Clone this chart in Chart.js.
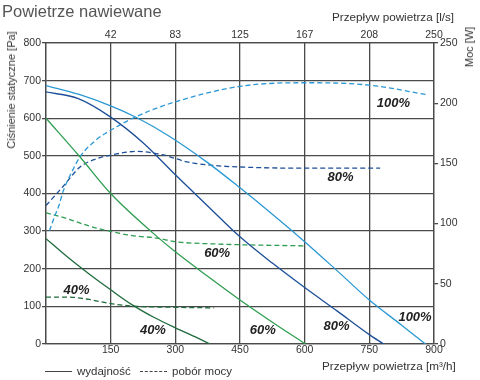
<!DOCTYPE html>
<html lang="pl">
<head>
<meta charset="utf-8">
<script src="https://cdn.jsdelivr.net/npm/chart.js@4.4.0/dist/chart.umd.min.js"></script>
<style>
  body { margin: 0; background: #fff; font-family: "Liberation Sans", Arial, sans-serif; }
  #wrap { position: relative; width: 480px; height: 380px; }
  #wrap canvas { position: absolute; left: 0; top: 0; }
  .txt { position: absolute; color: #333; font-size: 11.7px; white-space: nowrap; }
  .title { left: 2px; top: 2px; font-size: 16.5px; color: #555; }
  .rot { transform-origin: center; transform: translate(-50%, -50%) rotate(-90deg); font-size: 11px; }
  .leg-line { display: inline-block; width: 27px; vertical-align: middle; margin-right: 5px; border-top: 1px solid #444; }
  .leg-dash { border-top: 1px dashed #444; }
</style>
</head>
<body>
<div id="wrap">
  <canvas id="chart" width="480" height="380"></canvas>
  <div class="txt title">Powietrze nawiewane</div>
  <div class="txt" style="left:332px; top:10px;">Przepływ powietrza [l/s]</div>
  <div class="txt" style="left:322px; top:359px;">Przepływ powietrza [m³/h]</div>
  <div class="txt rot" style="left:11px; top:90px;">Ciśnienie statyczne [Pa]</div>
  <div class="txt rot" style="left:469px; top:47px;">Moc [W]</div>
  <div class="txt" style="left:45px; top:365px; font-size:11.5px;"><span class="leg-line"></span>wydajność</div>
  <div class="txt" style="left:140px; top:365px; font-size:11.5px;"><span class="leg-line leg-dash"></span>pobór mocy</div>
</div>
<script>
// osie
const flowTicks = [0, 150, 300, 450, 600, 750, 900];
const flowTicksLs = ['', '42', '83', '125', '167', '208', '250'];

// wydajność - ciśnienie statyczne [Pa]
const q100 = [0, 75, 150, 210, 285, 375, 450, 525, 600, 675, 750, 825, 880];
const pa100 = [687, 664, 633, 602, 553, 482, 415, 345, 272, 195, 117, 50, 0];
const q80 = [0, 75, 150, 225, 300, 375, 450, 525, 600, 675, 750, 783];
const pa80 = [670, 652, 603, 535, 450, 367, 285, 215, 150, 88, 25, 0];
const q60 = [0, 79, 150, 249, 300, 375, 450, 525, 602];
const pa60 = [600, 497, 400, 294, 245, 180, 117, 58, 0];
const q40 = [0, 50, 100, 150, 200, 250, 300, 350, 380];
const pa40 = [280, 231, 186, 144, 104, 71, 43, 17, 0];

// pobór mocy [W]
const qw100 = [8, 20, 30, 40, 60, 80, 118, 152, 210, 290, 450, 600, 750, 885];
const w100 = [94, 106, 115, 127, 143, 156, 170, 178, 189, 200, 214, 217, 215, 207];
const qw80 = [0, 40, 79, 118, 152, 210, 272, 330, 400, 450, 600, 775];
const w80 = [115, 131, 147, 154, 157, 160, 157, 151, 148, 147, 146, 146];
const qw60 = [0, 50, 100, 150, 200, 257, 300, 400, 600];
const w60 = [109, 104, 98, 93.5, 90, 88, 85, 83, 81.5];
const qw40 = [0, 50, 100, 150, 200, 300, 390];
const w40 = [39, 39, 37, 33.5, 31.5, 30.5, 30];

// etykiety krzywych (x w m3/h, y w Pa)
const curveLabels = [
  { text: '100%', x: 806, y: 640 },
  { text: '80%', x: 683, y: 444 },
  { text: '60%', x: 397, y: 242 },
  { text: '40%', x: 71, y: 143 },
  { text: '40%', x: 248, y: 37 },
  { text: '60%', x: 503, y: 37 },
  { text: '80%', x: 674, y: 47 },
  { text: '100%', x: 856, y: 70 }
];

const C100 = '#2a98d4';
const C80 = '#1d4f98';
const C60 = '#2f9e52';
const C40 = '#1f6b3c';
const GRID = '#4a4a4a';
const TICK_FONT = { family: '"Liberation Sans", Arial, sans-serif', size: 10.5 };

function pts(xs, ys) {
  return xs.map((x, i) => ({ x: x, y: ys[i] }));
}

function line(data, color, axis, dashed) {
  return {
    data: data,
    borderColor: color,
    borderWidth: 1.3,
    borderDash: dashed ? [5, 3] : [],
    pointRadius: 0,
    showLine: true,
    fill: false,
    cubicInterpolationMode: 'monotone',
    yAxisID: axis
  };
}

const labelPlugin = {
  id: 'curveLabels',
  afterDatasetsDraw(chart) {
    const ctx = chart.ctx;
    const sx = chart.scales.x, sy = chart.scales.y;
    ctx.save();
    ctx.font = 'italic bold 13px "Liberation Sans", Arial, sans-serif';
    ctx.fillStyle = '#222';
    ctx.textAlign = 'center';
    ctx.textBaseline = 'middle';
    curveLabels.forEach(l => {
      ctx.fillText(l.text, sx.getPixelForValue(l.x), sy.getPixelForValue(l.y));
    });
    ctx.restore();
  }
};

new Chart(document.getElementById('chart'), {
  type: 'scatter',
  data: {
    datasets: [
      line(pts(q100, pa100), C100, 'y', false),
      line(pts(q80, pa80), C80, 'y', false),
      line(pts(q60, pa60), C60, 'y', false),
      line(pts(q40, pa40), C40, 'y', false),
      line(pts(qw100, w100), C100, 'y2', true),
      line(pts(qw80, w80), C80, 'y2', true),
      line(pts(qw60, w60), C60, 'y2', true),
      line(pts(qw40, w40), C40, 'y2', true)
    ]
  },
  options: {
    responsive: false,
    animation: false,
    layout: { padding: 0 },
    plugins: { legend: { display: false }, tooltip: { enabled: false } },
    scales: {
      x: {
        type: 'linear', position: 'bottom', min: 0, max: 900,
        afterBuildTicks: s => { s.ticks = flowTicks.map(v => ({ value: v })); },
        afterFit: s => { s.height = 36; },
        ticks: { color: '#333', font: TICK_FONT, padding: 0, maxRotation: 0,
                 callback: v => (v === 0 ? '' : v) },
        grid: { color: GRID, lineWidth: 1.3, drawTicks: false },
        border: { color: GRID, width: 1.3 }
      },
      x2: {
        type: 'linear', position: 'top', min: 0, max: 900,
        afterBuildTicks: s => { s.ticks = flowTicks.map(v => ({ value: v })); },
        afterFit: s => { s.height = 43; },
        ticks: { color: '#333', font: TICK_FONT, padding: 2, maxRotation: 0,
                 callback: (v, i) => flowTicksLs[i] },
        grid: { drawOnChartArea: false, drawTicks: false },
        border: { color: GRID, width: 1.3 }
      },
      y: {
        type: 'linear', position: 'left', min: 0, max: 800,
        afterFit: s => { s.width = 46; },
        ticks: { stepSize: 100, color: '#333', font: TICK_FONT, padding: 1 },
        grid: { color: GRID, lineWidth: 1.3, tickLength: 4 },
        border: { color: GRID, width: 1.3 }
      },
      y2: {
        type: 'linear', position: 'right', min: 0, max: 250,
        afterFit: s => { s.width = 46; },
        ticks: { stepSize: 50, color: '#333', font: TICK_FONT, padding: 2 },
        grid: { drawOnChartArea: false, tickLength: 4, color: GRID, lineWidth: 1.3 },
        border: { color: GRID, width: 1.3 }
      }
    }
  },
  plugins: [labelPlugin]
});
</script>
</body>
</html>
